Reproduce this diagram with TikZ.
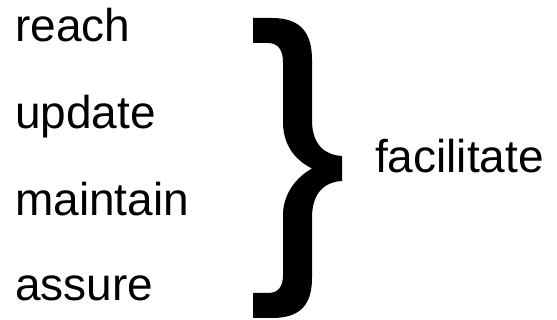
\documentclass[tikz,border=0pt]{standalone}
\usepackage{fontspec}
\setmainfont{Liberation Sans}
\begin{document}
\begin{tikzpicture}[x=1pt,y=-1pt,
  word/.style={anchor=base west,inner sep=0pt,font=\fontsize{46}{46}\selectfont}]
\useasboundingbox (0,0) rectangle (557,320);
\node[word] (reach) at (15,42) {reach};
\node[word] (update) at (15,129) {update};
\node[word] (maintain) at (15,216) {maintain};
\node[word] (assure) at (15,301) {assure};
\node[word] (fac) at (375,173) {facilitate};
\fill[black] (253,18) -- (272,18) .. controls (300,18) and (312,32) .. (312,60)
  -- (312,120) .. controls (312,145) and (325,155) .. (342,156)
  -- (342,181) .. controls (325,182) and (312,192) .. (312,218)
  -- (312,278) .. controls (312,305) and (300,318) .. (272,318)
  -- (253,318) -- (253,293) -- (268,293) .. controls (278,293) and (283,287) .. (283,275)
  -- (283,215) .. controls (283,195) and (295,178) .. (312,168.5)
  .. controls (295,160) and (283,145) .. (283,122)
  -- (283,62) .. controls (283,50) and (278,43) .. (268,43) -- (253,43) -- cycle;
\end{tikzpicture}
\end{document}
